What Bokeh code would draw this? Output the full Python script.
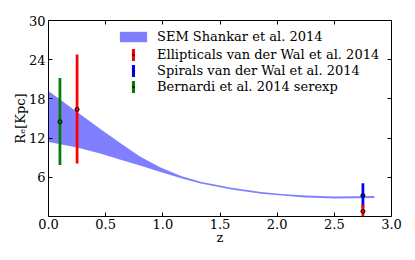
from bokeh.plotting import figure
from bokeh.models import (Range1d, LinearAxis, FixedTicker, PrintfTickFormatter,
                          CustomJSTickFormatter, Legend, LegendItem)
from bokeh.embed import file_html
from bokeh.resources import INLINE

# SEM band, Shankar et al. 2014
band_z = [0.0, 0.25, 0.46, 0.63, 0.8, 0.98, 1.16, 1.33, 1.6, 1.86, 2.04, 2.25, 2.5, 2.7, 2.85]
band_upper = [19.2, 16.0, 13.3, 11.2, 9.2, 7.5, 6.2, 5.3, 4.4, 3.75, 3.45, 3.2, 3.05, 3.1, 3.15]
band_lower = [11.4, 10.55, 9.6, 8.7, 7.8, 6.8, 5.85, 5.05, 4.15, 3.5, 3.2, 2.9, 2.75, 2.8, 2.85]

# Ellipticals van der Wal et al. 2014
ell_z = [0.25, 2.75]
ell_y = [16.4, 0.8]
ell_lo = [8.1, -0.2]
ell_hi = [24.8, 1.8]

# Spirals van der Wal et al. 2014
spi_z = [2.75]
spi_y = [3.2]
spi_lo = [1.3]
spi_hi = [5.1]

# Bernardi et al. 2014 serexp
ber_z = [0.1]
ber_y = [14.5]
ber_lo = [7.9]
ber_hi = [21.2]

labels = ["SEM Shankar et al. 2014", "Ellipticals van der Wal et al. 2014",
          "Spirals van der Wal et al. 2014", "Bernardi et al. 2014 serexp"]

x_ticks = [0.0, 0.5, 1.0, 1.5, 2.0, 2.5, 3.0]
y_ticks = [6, 12, 18, 24, 30]

FONT = "DejaVu Serif"

p = figure(width=415, height=260, output_backend="svg", toolbar_location=None,
           x_range=Range1d(0, 3), y_range=Range1d(0, 30),
           min_border_left=48, min_border_right=24, min_border_top=20, min_border_bottom=44)
p.xgrid.visible = False
p.ygrid.visible = False
p.outline_line_color = "black"
p.outline_line_width = 1
p.background_fill_color = "white"
p.border_fill_color = "white"

band = p.varea(x=band_z, y1=band_lower, y2=band_upper, fill_color="#0000ff", fill_alpha=0.5)

bw = 0.024
spi_bar = p.vbar(x=spi_z, bottom=spi_lo, top=spi_hi, width=bw, fill_color="#0000ff", line_color=None)
spi_pt = p.scatter(x=spi_z, y=spi_y, size=4, fill_color="#0000ff", line_color="black", line_width=1)
ell_bar = p.vbar(x=ell_z, bottom=ell_lo, top=ell_hi, width=bw, fill_color="#ff0000", line_color=None)
ell_pt = p.scatter(x=ell_z, y=ell_y, size=4, fill_color="#ff0000", line_color="black", line_width=1)
ber_bar = p.vbar(x=ber_z, bottom=ber_lo, top=ber_hi, width=bw, fill_color="#008000", line_color=None)
ber_pt = p.scatter(x=ber_z, y=ber_y, size=4, fill_color="#008000", line_color="black", line_width=1)

def style_axis(ax):
    ax.axis_line_color = None
    ax.major_tick_in = 4
    ax.major_tick_out = 0
    ax.major_tick_line_color = "black"
    ax.minor_tick_line_color = None
    ax.major_label_text_font = FONT
    ax.major_label_text_font_size = "13px"
    ax.major_label_text_color = "black"
    ax.axis_label_text_font = FONT
    ax.axis_label_text_font_size = "13px"
    ax.axis_label_text_font_style = "normal"
    ax.axis_label_text_color = "black"

xa = p.xaxis[0]
xa.ticker = FixedTicker(ticks=x_ticks)
xa.formatter = PrintfTickFormatter(format="%.1f")
xa.axis_label = "z"
style_axis(xa)
xa.major_label_standoff = 2
xa.axis_label_standoff = -2

ya = p.yaxis[0]
ya.ticker = FixedTicker(ticks=y_ticks)
ya.axis_label = "R\u2091[Kpc]"
style_axis(ya)
ya.major_label_standoff = 3
ya.axis_label_standoff = -2

blank = CustomJSTickFormatter(code="return ''")
top = LinearAxis(ticker=FixedTicker(ticks=x_ticks), formatter=blank)
style_axis(top)
p.add_layout(top, "above")
right = LinearAxis(ticker=FixedTicker(ticks=y_ticks), formatter=blank)
style_axis(right)
p.add_layout(right, "right")

def style_legend(lg):
    lg.border_line_color = None
    lg.background_fill_alpha = 0
    lg.label_text_font = FONT
    lg.label_text_font_size = "13px"
    lg.label_text_color = "black"
    lg.margin = 0
    lg.padding = 0

leg1 = Legend(items=[LegendItem(label=labels[0], renderers=[band])],
              location=(68, 172), glyph_width=34, glyph_height=13, label_height=13,
              label_standoff=7)
style_legend(leg1)
leg2 = Legend(items=[LegendItem(label=labels[1], renderers=[ell_bar, ell_pt]),
                     LegendItem(label=labels[2], renderers=[spi_bar, spi_pt]),
                     LegendItem(label=labels[3], renderers=[ber_bar, ber_pt])],
              location=(83, 122), glyph_width=4, glyph_height=15, label_height=15,
              spacing=1, label_standoff=22)
style_legend(leg2)
p.add_layout(leg1)
p.add_layout(leg2)

open("out.html", "w").write(file_html(p, INLINE))
